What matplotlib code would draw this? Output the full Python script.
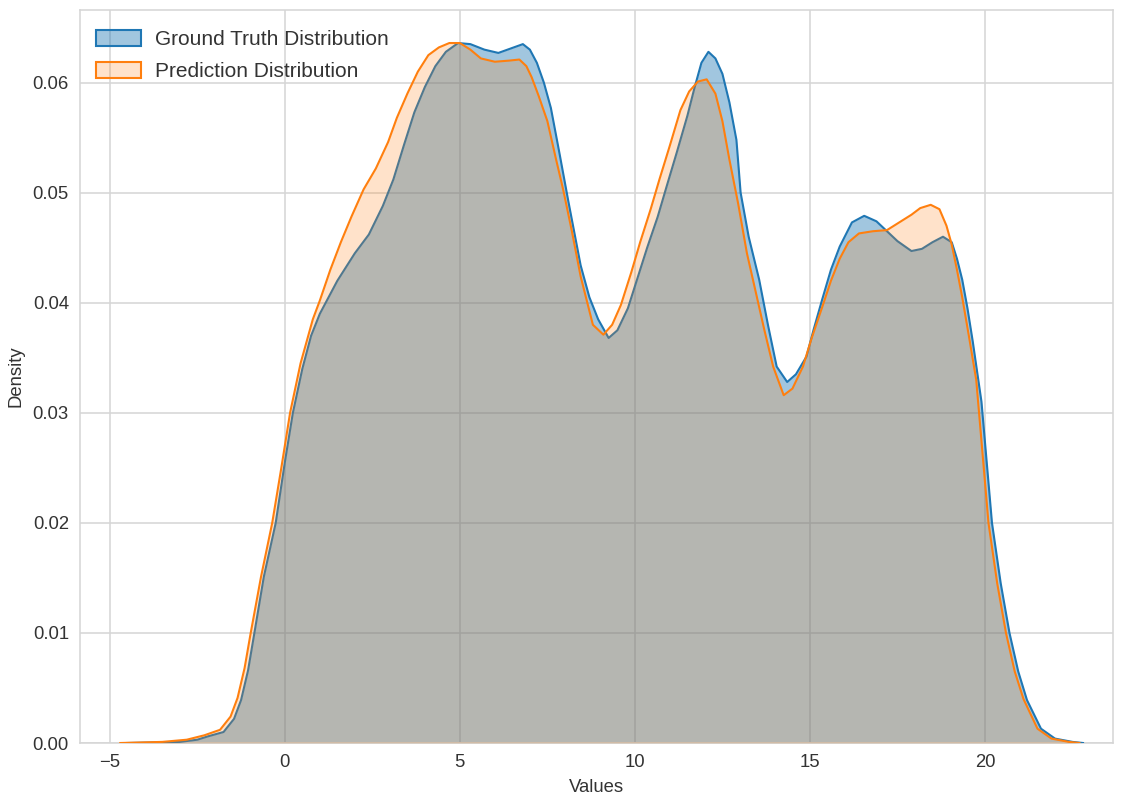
import matplotlib
matplotlib.use("Agg")
import matplotlib.pyplot as plt
from matplotlib.patches import Patch
from matplotlib.colors import to_rgba

# Ground truth density curve
gt_x = [-4.5, -3.0, -2.5, -2.2, -1.75, -1.45, -1.25, -1.05, -0.88, -0.6, -0.26, 0.0, 0.23, 0.5,
        0.75, 1.0, 1.5, 2.0, 2.4, 2.8, 3.1, 3.4, 3.7, 4.0, 4.3, 4.6, 4.95, 5.3, 5.7, 6.1, 6.45,
        6.8, 7.0, 7.2, 7.4, 7.6, 7.85, 8.1, 8.45, 8.7, 8.95, 9.25, 9.5, 9.8, 10.1, 10.35,
        10.65, 10.9, 11.2, 11.5, 11.7, 11.9, 12.1, 12.3, 12.5, 12.7, 12.9, 13.02, 13.25,
        13.55, 13.8, 14.05, 14.35, 14.6, 14.9, 15.1, 15.35, 15.6, 15.85, 16.2, 16.55, 16.9,
        17.2, 17.5, 17.9, 18.2, 18.5, 18.8, 19.05, 19.2, 19.35, 19.5, 19.65, 19.9, 20.2,
        20.45, 20.7, 20.95, 21.2, 21.6, 22.0, 22.5, 22.8]
gt_y = [0.0, 0.0001, 0.0003, 0.0006, 0.0010, 0.0022, 0.0039, 0.0066, 0.0098, 0.0151, 0.0200,
        0.0255, 0.0300, 0.0340, 0.0370, 0.0390, 0.0420, 0.0445, 0.0462, 0.0488, 0.0512,
        0.0543, 0.0573, 0.0596, 0.0615, 0.0628, 0.0636, 0.0635, 0.0630, 0.0627, 0.0631,
        0.0635, 0.0630, 0.0618, 0.0600, 0.0577, 0.0535, 0.0492, 0.0434, 0.0405, 0.0385,
        0.0368, 0.0375, 0.0395, 0.0425, 0.0450, 0.0478, 0.0505, 0.0537, 0.0570, 0.0595,
        0.0618, 0.0628, 0.0622, 0.0608, 0.0582, 0.0548, 0.0500, 0.0460, 0.0421, 0.0380,
        0.0342, 0.0328, 0.0335, 0.0351, 0.0375, 0.0403, 0.0430, 0.0451, 0.0473, 0.0479,
        0.0474, 0.0465, 0.0456, 0.0447, 0.0449, 0.0455, 0.0460, 0.0455, 0.0440, 0.0421,
        0.0395, 0.0365, 0.0310, 0.0200, 0.0145, 0.0100, 0.0065, 0.0039, 0.0013, 0.0004,
        0.0001, 0.0]

# Prediction density curve
pred_x = [-4.7, -3.5, -2.8, -2.3, -1.85, -1.55, -1.35, -1.15, -0.98, -0.68, -0.36, -0.1, 0.15,
          0.45, 0.8, 1.0, 1.3, 1.6, 1.9, 2.25, 2.6, 2.95, 3.2, 3.5, 3.8, 4.1, 4.4, 4.7, 5.0,
          5.3, 5.6, 6.0, 6.4, 6.7, 6.9, 7.05, 7.25, 7.5, 7.75, 7.95, 8.2, 8.45, 8.8, 9.1,
          9.35, 9.6, 9.9, 10.15, 10.45, 10.7, 11.0, 11.3, 11.55, 11.8, 12.05, 12.3, 12.5,
          12.7, 12.95, 13.2, 13.45, 13.7, 13.95, 14.25, 14.5, 14.8, 15.05, 15.35, 15.6,
          15.85, 16.1, 16.4, 16.8, 17.2, 17.6, 17.9, 18.15, 18.45, 18.7, 18.9, 19.05, 19.2,
          19.35, 19.55, 19.75, 20.1, 20.35, 20.6, 20.85, 21.1, 21.5, 21.9, 22.4, 22.7]
pred_y = [0.0, 0.0001, 0.0003, 0.0007, 0.0012, 0.0024, 0.0041, 0.0068, 0.0099, 0.0151,
          0.0200, 0.0250, 0.0300, 0.0345, 0.0385, 0.0402, 0.0430, 0.0455, 0.0478, 0.0503,
          0.0522, 0.0546, 0.0568, 0.0590, 0.0610, 0.0625, 0.0632, 0.0636, 0.0636, 0.0630,
          0.0622, 0.0619, 0.0620, 0.0621, 0.0615, 0.0605, 0.0588, 0.0565, 0.0530, 0.0503,
          0.0465, 0.0424, 0.0380, 0.0371, 0.0380, 0.0398, 0.0428, 0.0455, 0.0485, 0.0512,
          0.0543, 0.0575, 0.0592, 0.0601, 0.0603, 0.0590, 0.0565, 0.0530, 0.0490, 0.0445,
          0.0410, 0.0375, 0.0342, 0.0316, 0.0322, 0.0342, 0.0368, 0.0396, 0.0420, 0.0440,
          0.0455, 0.0463, 0.0465, 0.0466, 0.0474, 0.0480, 0.0486, 0.0489, 0.0485, 0.0470,
          0.0453, 0.0430, 0.0405, 0.0368, 0.0330, 0.0200, 0.0145, 0.0100, 0.0065, 0.0040,
          0.0013, 0.0004, 0.0001, 0.0]

labels = ["Ground Truth Distribution", "Prediction Distribution"]
x_ticks = [-5, 0, 5, 10, 15, 20]
y_ticks = [0.00, 0.01, 0.02, 0.03, 0.04, 0.05, 0.06]

BLUE = "#1f77b4"
ORANGE = "#ff7f0e"
A_BLUE = 0.42
A_ORANGE = 0.22

plt.rcParams["font.family"] = ["Liberation Sans", "DejaVu Sans"]

fig = plt.figure(figsize=(11.32, 8.07), dpi=100)
ax = fig.add_axes([0.0707, 0.0793, 0.9123, 0.9083])

ax.fill_between(gt_x, gt_y, 0, color=BLUE, alpha=A_BLUE, linewidth=0, zorder=2)
ax.plot(gt_x, gt_y, color=BLUE, lw=1.5, zorder=3)
ax.fill_between(pred_x, pred_y, 0, color=ORANGE, alpha=A_ORANGE, linewidth=0, zorder=4)
ax.plot(pred_x, pred_y, color=ORANGE, lw=1.5, zorder=5)

ax.set_xlim(-5.85, 23.65)
ax.set_ylim(0, 0.0666)
ax.set_xticks(x_ticks)
ax.set_xticklabels(["\u22125", "0", "5", "10", "15", "20"])
ax.set_yticks(y_ticks)
ax.set_yticklabels([f"{v:.2f}" for v in y_ticks])

ax.set_facecolor("white")
ax.grid(True, color="#d5d5d5", lw=1.1, zorder=0)
ax.set_axisbelow(True)
for s in ax.spines.values():
    s.set_color("#d5d5d5")
    s.set_linewidth(1.1)
ax.tick_params(axis="both", length=0, pad=8, labelsize=13.3, colors="#333333")
ax.set_xlabel("Values", fontsize=13.3, color="#333333", labelpad=6)
ax.set_ylabel("Density", fontsize=13.3, color="#333333", labelpad=6)

handles = [Patch(facecolor=to_rgba(BLUE, A_BLUE), edgecolor=BLUE, lw=1.5),
           Patch(facecolor=to_rgba(ORANGE, A_ORANGE), edgecolor=ORANGE, lw=1.5)]
ax.legend(handles, labels, loc="upper left", frameon=False, fontsize=15,
          handlelength=2.2, handleheight=0.85, handletextpad=0.65, labelspacing=0.6,
          bbox_to_anchor=(-0.001, 0.996), borderaxespad=0.0, borderpad=0.8,
          labelcolor="#333333")

fig.savefig("out.png", dpi=100)
